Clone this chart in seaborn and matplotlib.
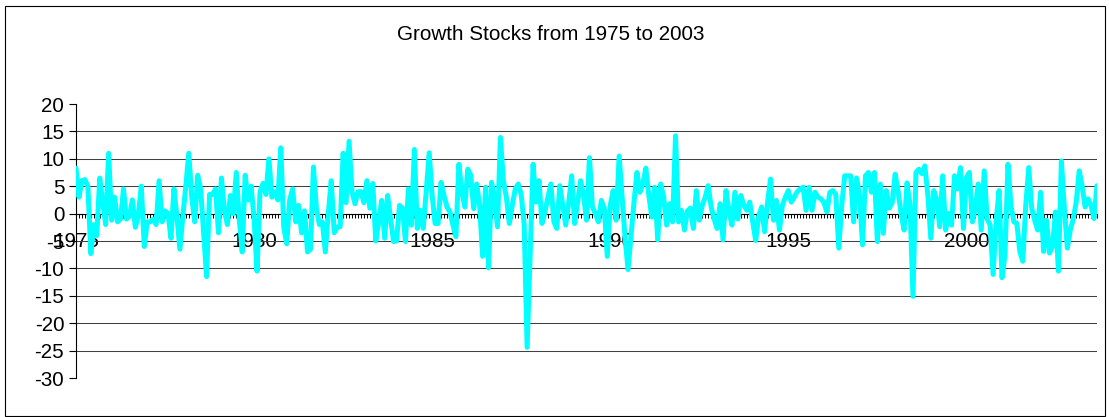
import numpy as np
import pandas as pd
import matplotlib
matplotlib.use("Agg")
import matplotlib.pyplot as plt
import seaborn as sns
from matplotlib.patches import Rectangle
from matplotlib.ticker import MultipleLocator

# Monthly returns (%) of growth stocks, Feb 1975 - Oct 2003
returns_1975_1979 = [
    8.3, 3.0, 6.0, 6.2, 5.0, -7.3, -2.0, -4.0, 6.5, 2.0, -2.0,
    11.0, -1.2, 3.0, -1.5, -1.0, 4.5, -1.0, -0.5, 2.5, -2.5, -0.3, 5.0,
    -6.0, -1.5, -1.5, -1.0, -2.0, 6.0, -1.5, 0.5, 0.0, -4.5, 4.5, -0.5,
    -6.5, -0.5, 5.0, 11.0, 3.0, -1.5, 7.0, 4.5, -3.5, -11.5, 3.5, 3.5,
    4.5, -3.5, 6.5, 0.5, -2.0, 3.3, 0.0, 7.5, -1.0, -7.0, 7.0, 2.5,
]
returns_1980_1984 = [
    5.0, -1.0, -10.5, 4.0, 5.5, 3.5, 10.0, 3.0, 4.0, 2.5, 12.0, -2.5,
    -5.5, 2.5, 4.5, -1.5, 1.5, -3.5, 0.5, -7.0, -6.5, 8.5, 1.0, -2.0,
    -1.5, -7.0, 0.0, 6.0, -3.5, -2.5, -2.4, 11.0, 2.0, 13.2, 4.0, 1.8,
    4.0, 4.0, 2.0, 6.0, 1.0, 5.5, -5.0, -1.5, 2.4, -4.5, 3.3, -1.0,
    -5.1, -5.0, 1.5, 1.0, -5.1, 4.5, -2.1, 11.7, -2.7, 0.6, -2.7, 4.0,
]
returns_1985_1989 = [
    11.1, 3.3, -1.8, -1.8, 5.7, 3.3, 1.2, 0.3, -2.1, -4.2, 9.0, 4.0,
    1.2, 8.1, 7.0, 0.9, 5.4, 1.5, -7.8, 4.8, -9.9, 5.7, 3.0, -2.4,
    13.9, 6.0, 3.0, -1.8, 1.5, 4.5, 5.4, 3.5, -2.0, -24.4, -8.0, 9.0,
    2.1, 6.0, -1.8, 0.3, 3.0, 5.4, -1.5, -2.7, 5.1, 1.5, -2.1, 2.0,
    6.9, -1.8, 2.0, 6.0, 3.3, -1.2, 10.2, 1.2, 0.0, -1.5, 2.4, 1.0,
]
returns_1990_1994 = [
    -7.8, 1.5, 4.2, -1.2, 10.5, 3.0, -4.5, -10.2, -4.0, 2.0, 7.5, 3.9,
    5.5, 8.3, 3.3, -0.6, 4.8, -4.8, 5.4, 3.0, -2.1, 1.8, -1.5, 14.2,
    -1.5, 0.6, -3.0, 0.5, 1.0, -2.7, 4.2, -1.2, 1.5, 3.0, 5.1, 1.2,
    -1.0, -2.7, 1.8, -4.8, 4.2, 0.5, -2.1, 3.9, -1.0, 3.3, 1.5, 0.6,
    2.1, -1.5, -4.9, -0.5, 1.2, -3.3, 2.0, 6.3, -1.2, 2.4, -3.0, 1.5,
]
returns_1995_1999 = [
    3.0, 4.2, 2.1, 3.0, 4.0, 4.5, 4.8, 0.6, 4.8, 0.6, 3.9, 3.0,
    2.7, 2.0, 0.3, 3.9, 4.2, 3.5, -6.3, 1.5, 6.9, 6.9, 6.9, -1.5,
    6.5, 3.3, -5.7, 6.9, 7.5, 3.9, 7.5, -5.1, 5.4, -3.6, 4.2, 1.0,
    2.0, 7.2, 4.0, 0.0, -3.0, 5.6, 1.5, -15.1, 7.5, 8.1, 7.3, 8.7,
    3.5, -4.5, 4.2, 2.5, -2.4, 6.9, -3.0, 0.0, -2.1, 6.9, 4.5, 8.4,
]
returns_2000_2003 = [
    -2.7, 6.6, 7.5, -1.5, 1.0, 5.4, -3.0, 7.8, -1.0, -2.1, -11.1, -1.5,
    4.2, -11.7, -7.5, 9.0, 1.5, -1.5, -1.8, -6.9, -8.7, 1.5, 8.4, 1.0,
    -1.2, -3.0, 3.9, -6.9, -1.2, -7.2, -6.0, 0.3, -10.5, 9.6, 1.0, -6.3,
    -3.0, -1.0, 2.1, 7.8, 5.0, 1.2, 2.7, 1.5, -0.9, 5.1,
]

first_month = "1975-02-01"
label_every = 60          # one year label per five years of months
y_ticks = list(range(-30, 21, 5))
title = "Growth Stocks from 1975 to 2003"

returns = (returns_1975_1979 + returns_1980_1984 + returns_1985_1989
           + returns_1990_1994 + returns_1995_1999 + returns_2000_2003)
dates = pd.date_range(first_month, periods=len(returns), freq="MS")
df = pd.DataFrame({"pos": np.arange(len(returns)), "ret": returns,
                   "year": dates.year.astype(str)})
label_pos = df["pos"].iloc[::label_every].tolist()
label_txt = df["year"].iloc[::label_every].tolist()

sns.set_style("white")
plt.rcParams["font.family"] = ["Liberation Sans", "DejaVu Sans"]
plt.rcParams["axes.unicode_minus"] = True

W, H = 1109, 417
fig = plt.figure(figsize=(W / 100, H / 100), dpi=100)
fig.patch.set_facecolor("white")

# chart-area frame
fig.patches.append(Rectangle((5 / W, 1 - 416 / H), (1105 - 5) / W, (416 - 6) / H,
                             transform=fig.transFigure, fill=False,
                             edgecolor="black", linewidth=0.8))

ax = fig.add_axes([76 / W, 1 - 378 / H, (1097 - 76) / W, (378 - 104) / H])
ax.set_facecolor("white")

sns.lineplot(data=df, x="pos", y="ret", ax=ax, color="#00FFFF",
             linewidth=3.6, estimator=None)
for ln in ax.lines:
    ln.set_solid_joinstyle("round")
    ln.set_solid_capstyle("round")
    ln.set_zorder(3)

ax.set_xlim(0, len(df) - 1)
ax.set_ylim(-30, 20)
ax.set_yticks(y_ticks)
ax.set_yticklabels([str(v) for v in y_ticks])

ax.grid(False)
ax.yaxis.grid(True, color="#404040", linewidth=0.75)
ax.set_axisbelow(True)
gls = ax.get_ygridlines()
gls[0].set_visible(False)
gls[-1].set_visible(False)

for s in ("top", "right"):
    ax.spines[s].set_visible(False)
ax.spines["left"].set_color("black")
ax.spines["left"].set_linewidth(0.8)
ax.spines["bottom"].set_position(("data", 0))
ax.spines["bottom"].set_color("black")
ax.spines["bottom"].set_linewidth(0.8)
ax.spines["bottom"].set_zorder(2)

ax.set_xticks(label_pos)
ax.set_xticklabels(label_txt)
ax.xaxis.set_minor_locator(MultipleLocator(1))
ax.tick_params(axis="x", which="both", bottom=True, direction="out",
               length=3, width=0.7, color="black")
ax.tick_params(axis="x", which="major", pad=10.5, labelsize=14.9,
               labelcolor="black")
ax.tick_params(axis="y", which="major", left=True, direction="out",
               length=5, width=0.8, color="black", pad=3.5,
               labelsize=14.9, labelcolor="black")

ax.set_xlabel("")
ax.set_ylabel("")

fig.text(551 / W, 1 - 35 / H, title, ha="center", va="center",
         fontsize=14.9, color="black")

fig.savefig("out.png", dpi=100, facecolor="white")
